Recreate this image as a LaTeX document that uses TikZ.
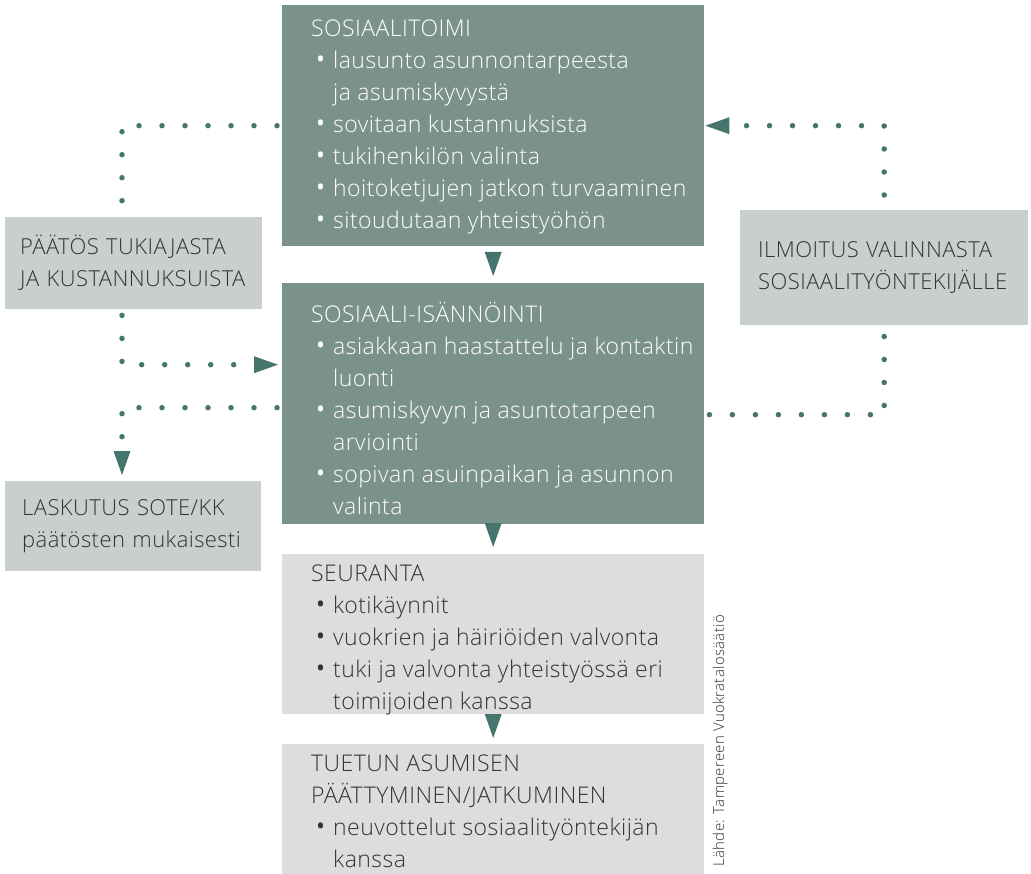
\documentclass[tikz,border=0pt]{standalone}
\usepackage{fontspec}
\setmainfont{Open Sans}[UprightFont=* Light, Ligatures=NoCommon, LetterSpace=2]
\usepackage{xcolor}
\usetikzlibrary{arrows.meta}

\definecolor{boxdark}{HTML}{7B928A}
\definecolor{boxside}{HTML}{C9CFCE}
\definecolor{boxlight}{HTML}{DCDDDC}
\definecolor{dotgreen}{HTML}{46756D}
\definecolor{textdark}{HTML}{333333}

\newcommand{\itm}{\makebox[22pt][l]{\hspace{3pt}\raisebox{-3pt}{\scalebox{1.5}{\textbullet}}}}
\newcommand{\cnt}{\hspace*{22pt}}
\newcommand{\firstline}{\rule{0pt}{20pt}}

\begin{document}
\begin{tikzpicture}[x=1pt, y=-1pt,
    mainbox/.style={fill=boxdark, inner sep=0pt, anchor=north west, minimum width=422pt},
    lightbox/.style={fill=boxlight, inner sep=0pt, anchor=north west, minimum width=422pt},
    sidebox/.style={fill=boxside, text=textdark, anchor=north west, align=left, inner ysep=0pt,
        font=\fontsize{22}{32}\selectfont},
    boxtext/.style={inner sep=0pt, anchor=north west, align=left},
    dots/.style={dotgreen, line width=5.5pt, line cap=round, dash pattern=on 0pt off 23pt},
    arr/.style={-{Triangle[length=24pt, width=17pt, line width=0pt]}, dotgreen},
    every node/.style={font=\fontsize{23}{32}\selectfont}]
    \useasboundingbox (0,0) rectangle (1031,874);

    % main column
    \node[mainbox, minimum height=241pt] (toimi) at (282,5) {};
    \node[mainbox, minimum height=241pt] (isan) at (282,283) {};
    \node[lightbox, minimum height=160pt] (seur) at (282,554) {};
    \node[lightbox, minimum height=130pt] (loppu) at (282,744) {};

    \node[boxtext, text=white] (toimitxt) at ([xshift=29pt, yshift=-11pt]toimi.north west) {\firstline SOSIAALITOIMI\\
        \itm lausunto asunnontarpeesta\\
        \cnt ja asumiskyvystä\\
        \itm sovitaan kustannuksista\\
        \itm tukihenkilön valinta\\
        \itm hoitoketjujen jatkon turvaaminen\\
        \itm sitoudutaan yhteistyöhön};
    \node[boxtext, text=white] (isantxt) at ([xshift=29pt, yshift=-19pt]isan.north west) {\firstline SOSIAALI-ISÄNNÖINTI\\
        \itm asiakkaan haastattelu ja kontaktin\\
        \cnt luonti\\
        \itm asumiskyvyn ja asuntotarpeen\\
        \cnt arviointi\\
        \itm sopivan asuinpaikan ja asunnon\\
        \cnt valinta};
    \node[boxtext, text=textdark] (seurtxt) at ([xshift=29pt, yshift=-7pt]seur.north west) {\firstline SEURANTA\\
        \itm kotikäynnit\\
        \itm vuokrien ja häiriöiden valvonta\\
        \itm tuki ja valvonta yhteistyössä eri\\
        \cnt toimijoiden kanssa};
    \node[boxtext, text=textdark] (lopputxt) at ([xshift=29pt, yshift=-7pt]loppu.north west) {\firstline TUETUN ASUMISEN\\
        PÄÄTTYMINEN/JATKUMINEN\\
        \itm neuvottelut sosiaalityöntekijän\\
        \cnt kanssa};

    % side boxes
    \node[sidebox, inner xsep=15pt, text width=227pt, minimum height=92pt] (paatos) at (5,217) {PÄÄTÖS TUKIAJASTA\\JA KUSTANNUKSUISTA};
    \node[sidebox, inner xsep=18pt, text width=252pt, minimum height=115pt] (ilmoitus) at (740,210) {ILMOITUS VALINNASTA\\SOSIAALITYÖNTEKIJÄLLE};
    \node[sidebox, inner xsep=17pt, text width=222pt, minimum height=90pt] (laskutus) at (5,481) {LASKUTUS SOTE/KK\\päätösten mukaisesti};

    \node[rotate=90, anchor=base west, text=textdark, font=\fontsize{15}{18}\selectfont] (lahde) at (724,870) {Lähde: Tampereen Vuokratalosäätiö};

    % arrows down the column
    \draw[arr, line width=0.1pt] ([yshift=-6pt]toimi.south) -- ([yshift=7pt]isan.north);
    \draw[arr, line width=0.1pt] ([yshift=1pt]isan.south) -- ([yshift=7pt]seur.north);
    \draw[arr, line width=0.1pt] (seur.south) -- ([yshift=6pt]loppu.north);

    % dotted loops
    \coordinate (lcol) at (122,0);
    \draw[dots] ([xshift=-5pt]toimi.west) -| ([yshift=15pt]lcol |- paatos.north);
    \draw[dots, arr] ([yshift=-6pt]lcol |- paatos.south) |- ([xshift=-4pt, yshift=39pt]isan.west);
    \draw[dots, arr] ([xshift=-5pt, yshift=-4pt]isan.west) -| ([yshift=6pt]lcol |- laskutus.north);
    \draw[dots] ([xshift=5pt, yshift=-11pt]isan.east) -| ([yshift=-7pt]ilmoitus.south);
    \draw[dots, arr] ([yshift=15pt]ilmoitus.north) |- ([xshift=1pt]toimi.east);
\end{tikzpicture}
\end{document}
